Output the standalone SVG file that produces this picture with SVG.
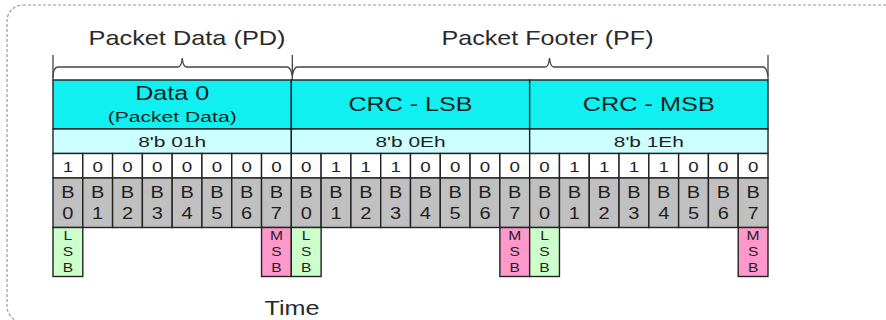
<svg xmlns="http://www.w3.org/2000/svg" width="886" height="320" viewBox="0 0 886 320">
<style>
  text { font-family: "Liberation Sans", Arial, sans-serif; fill: #1e1e1e; text-anchor: middle; }
  .sx { transform-box: fill-box; transform-origin: center; transform: scaleX(1.25); }
  .title { font-size: 21px; fill: #2a2a2a; }
  .hd { font-size: 20px; }
  .sub { font-size: 15.5px; }
  .val { font-size: 15px; }
  .bit { font-size: 15px; }
  .bn { font-size: 16px; }
  .lb { font-size: 12.5px; }
  .cell { stroke: #222; stroke-width: 1.4; }
  .cyan { fill: #10F0F0; }
  .lcyan { fill: #CCFFFF; }
  .white { fill: #FFFFFF; }
  .gray { fill: #C0C0C0; }
  .lsb { fill: #CCFFCC; }
  .msb { fill: #FF99CC; }
  .brace { fill: none; stroke: #444; stroke-width: 1.3; }
  .frame { fill: none; stroke: #9a9a9a; stroke-width: 1.2; stroke-dasharray: 3 2; }
</style>

<rect class="frame" x="7" y="5" width="960" height="317" rx="16"/>

<g id="labels">
  <text class="title" x="187" y="45" textLength="197" lengthAdjust="spacingAndGlyphs">Packet Data (PD)</text>
  <text class="title" x="547.5" y="45" textLength="212" lengthAdjust="spacingAndGlyphs">Packet Footer (PF)</text>
  <text class="title" x="292" y="315" textLength="55" lengthAdjust="spacingAndGlyphs">Time</text>
</g>

<g id="connectors">
  <path class="brace" d="M53,55 V80 M292.3,55 V80 M768,55 V80"/>
  <path class="brace" d="M53,78 Q53,67 58,67 H178 Q181.5,67 182.3,58 Q183,67 186.5,67 H287 Q290.5,67 292.3,75.5"/>
  <path class="brace" d="M292.3,75.5 Q294,67 297.5,67 H545 Q548.7,67 549.5,58 Q550.3,67 554,67 H763 Q766.5,67 768,76"/>
</g>

<g id="byte-data0">
  <rect class="cell cyan" x="53" y="80" width="238.33" height="49"/>
  <rect class="cell lcyan" x="53" y="129" width="238.33" height="24.5"/>
  <text class="hd" x="172.2" y="99.5" textLength="74" lengthAdjust="spacingAndGlyphs">Data 0</text>
  <text class="sub" x="172.2" y="121.5" textLength="129" lengthAdjust="spacingAndGlyphs">(Packet Data)</text>
  <text class="val" x="172.2" y="147.3" textLength="68" lengthAdjust="spacingAndGlyphs">8'b 01h</text>
</g>
<g id="byte-crc-lsb">
  <rect class="cell cyan" x="291.33" y="80" width="238.33" height="49"/>
  <rect class="cell lcyan" x="291.33" y="129" width="238.33" height="24.5"/>
  <text class="hd" x="410.5" y="111" textLength="124" lengthAdjust="spacingAndGlyphs">CRC - LSB</text>
  <text class="val" x="410.5" y="147.3" textLength="70" lengthAdjust="spacingAndGlyphs">8'b 0Eh</text>
</g>
<g id="byte-crc-msb">
  <rect class="cell cyan" x="529.67" y="80" width="238.33" height="49"/>
  <rect class="cell lcyan" x="529.67" y="129" width="238.33" height="24.5"/>
  <text class="hd" x="648.8" y="111" textLength="132" lengthAdjust="spacingAndGlyphs">CRC - MSB</text>
  <text class="val" x="648.8" y="147.3" textLength="70" lengthAdjust="spacingAndGlyphs">8'b 1Eh</text>
</g>

<g id="bits">
  <g id="bit0" transform="translate(53,0)"><rect class="cell white" width="29.79" y="153.5" height="24.5"/><rect class="cell gray" width="29.79" y="178" height="49.5"/><text class="bit sx" x="14.9" y="172.5">1</text><text class="bn sx" x="14.9" y="198.5">B</text><text class="bn sx" x="14.9" y="219.3">0</text></g>
  <g id="bit1" transform="translate(82.79,0)"><rect class="cell white" width="29.79" y="153.5" height="24.5"/><rect class="cell gray" width="29.79" y="178" height="49.5"/><text class="bit sx" x="14.9" y="172.5">0</text><text class="bn sx" x="14.9" y="198.5">B</text><text class="bn sx" x="14.9" y="219.3">1</text></g>
  <g id="bit2" transform="translate(112.58,0)"><rect class="cell white" width="29.79" y="153.5" height="24.5"/><rect class="cell gray" width="29.79" y="178" height="49.5"/><text class="bit sx" x="14.9" y="172.5">0</text><text class="bn sx" x="14.9" y="198.5">B</text><text class="bn sx" x="14.9" y="219.3">2</text></g>
  <g id="bit3" transform="translate(142.38,0)"><rect class="cell white" width="29.79" y="153.5" height="24.5"/><rect class="cell gray" width="29.79" y="178" height="49.5"/><text class="bit sx" x="14.9" y="172.5">0</text><text class="bn sx" x="14.9" y="198.5">B</text><text class="bn sx" x="14.9" y="219.3">3</text></g>
  <g id="bit4" transform="translate(172.17,0)"><rect class="cell white" width="29.79" y="153.5" height="24.5"/><rect class="cell gray" width="29.79" y="178" height="49.5"/><text class="bit sx" x="14.9" y="172.5">0</text><text class="bn sx" x="14.9" y="198.5">B</text><text class="bn sx" x="14.9" y="219.3">4</text></g>
  <g id="bit5" transform="translate(201.96,0)"><rect class="cell white" width="29.79" y="153.5" height="24.5"/><rect class="cell gray" width="29.79" y="178" height="49.5"/><text class="bit sx" x="14.9" y="172.5">0</text><text class="bn sx" x="14.9" y="198.5">B</text><text class="bn sx" x="14.9" y="219.3">5</text></g>
  <g id="bit6" transform="translate(231.75,0)"><rect class="cell white" width="29.79" y="153.5" height="24.5"/><rect class="cell gray" width="29.79" y="178" height="49.5"/><text class="bit sx" x="14.9" y="172.5">0</text><text class="bn sx" x="14.9" y="198.5">B</text><text class="bn sx" x="14.9" y="219.3">6</text></g>
  <g id="bit7" transform="translate(261.54,0)"><rect class="cell white" width="29.79" y="153.5" height="24.5"/><rect class="cell gray" width="29.79" y="178" height="49.5"/><text class="bit sx" x="14.9" y="172.5">0</text><text class="bn sx" x="14.9" y="198.5">B</text><text class="bn sx" x="14.9" y="219.3">7</text></g>

  <g id="bit8" transform="translate(291.33,0)"><rect class="cell white" width="29.79" y="153.5" height="24.5"/><rect class="cell gray" width="29.79" y="178" height="49.5"/><text class="bit sx" x="14.9" y="172.5">0</text><text class="bn sx" x="14.9" y="198.5">B</text><text class="bn sx" x="14.9" y="219.3">0</text></g>
  <g id="bit9" transform="translate(321.13,0)"><rect class="cell white" width="29.79" y="153.5" height="24.5"/><rect class="cell gray" width="29.79" y="178" height="49.5"/><text class="bit sx" x="14.9" y="172.5">1</text><text class="bn sx" x="14.9" y="198.5">B</text><text class="bn sx" x="14.9" y="219.3">1</text></g>
  <g id="bit10" transform="translate(350.92,0)"><rect class="cell white" width="29.79" y="153.5" height="24.5"/><rect class="cell gray" width="29.79" y="178" height="49.5"/><text class="bit sx" x="14.9" y="172.5">1</text><text class="bn sx" x="14.9" y="198.5">B</text><text class="bn sx" x="14.9" y="219.3">2</text></g>
  <g id="bit11" transform="translate(380.71,0)"><rect class="cell white" width="29.79" y="153.5" height="24.5"/><rect class="cell gray" width="29.79" y="178" height="49.5"/><text class="bit sx" x="14.9" y="172.5">1</text><text class="bn sx" x="14.9" y="198.5">B</text><text class="bn sx" x="14.9" y="219.3">3</text></g>
  <g id="bit12" transform="translate(410.5,0)"><rect class="cell white" width="29.79" y="153.5" height="24.5"/><rect class="cell gray" width="29.79" y="178" height="49.5"/><text class="bit sx" x="14.9" y="172.5">0</text><text class="bn sx" x="14.9" y="198.5">B</text><text class="bn sx" x="14.9" y="219.3">4</text></g>
  <g id="bit13" transform="translate(440.29,0)"><rect class="cell white" width="29.79" y="153.5" height="24.5"/><rect class="cell gray" width="29.79" y="178" height="49.5"/><text class="bit sx" x="14.9" y="172.5">0</text><text class="bn sx" x="14.9" y="198.5">B</text><text class="bn sx" x="14.9" y="219.3">5</text></g>
  <g id="bit14" transform="translate(470.08,0)"><rect class="cell white" width="29.79" y="153.5" height="24.5"/><rect class="cell gray" width="29.79" y="178" height="49.5"/><text class="bit sx" x="14.9" y="172.5">0</text><text class="bn sx" x="14.9" y="198.5">B</text><text class="bn sx" x="14.9" y="219.3">6</text></g>
  <g id="bit15" transform="translate(499.88,0)"><rect class="cell white" width="29.79" y="153.5" height="24.5"/><rect class="cell gray" width="29.79" y="178" height="49.5"/><text class="bit sx" x="14.9" y="172.5">0</text><text class="bn sx" x="14.9" y="198.5">B</text><text class="bn sx" x="14.9" y="219.3">7</text></g>

  <g id="bit16" transform="translate(529.67,0)"><rect class="cell white" width="29.79" y="153.5" height="24.5"/><rect class="cell gray" width="29.79" y="178" height="49.5"/><text class="bit sx" x="14.9" y="172.5">0</text><text class="bn sx" x="14.9" y="198.5">B</text><text class="bn sx" x="14.9" y="219.3">0</text></g>
  <g id="bit17" transform="translate(559.46,0)"><rect class="cell white" width="29.79" y="153.5" height="24.5"/><rect class="cell gray" width="29.79" y="178" height="49.5"/><text class="bit sx" x="14.9" y="172.5">1</text><text class="bn sx" x="14.9" y="198.5">B</text><text class="bn sx" x="14.9" y="219.3">1</text></g>
  <g id="bit18" transform="translate(589.25,0)"><rect class="cell white" width="29.79" y="153.5" height="24.5"/><rect class="cell gray" width="29.79" y="178" height="49.5"/><text class="bit sx" x="14.9" y="172.5">1</text><text class="bn sx" x="14.9" y="198.5">B</text><text class="bn sx" x="14.9" y="219.3">2</text></g>
  <g id="bit19" transform="translate(619.04,0)"><rect class="cell white" width="29.79" y="153.5" height="24.5"/><rect class="cell gray" width="29.79" y="178" height="49.5"/><text class="bit sx" x="14.9" y="172.5">1</text><text class="bn sx" x="14.9" y="198.5">B</text><text class="bn sx" x="14.9" y="219.3">3</text></g>
  <g id="bit20" transform="translate(648.83,0)"><rect class="cell white" width="29.79" y="153.5" height="24.5"/><rect class="cell gray" width="29.79" y="178" height="49.5"/><text class="bit sx" x="14.9" y="172.5">1</text><text class="bn sx" x="14.9" y="198.5">B</text><text class="bn sx" x="14.9" y="219.3">4</text></g>
  <g id="bit21" transform="translate(678.63,0)"><rect class="cell white" width="29.79" y="153.5" height="24.5"/><rect class="cell gray" width="29.79" y="178" height="49.5"/><text class="bit sx" x="14.9" y="172.5">0</text><text class="bn sx" x="14.9" y="198.5">B</text><text class="bn sx" x="14.9" y="219.3">5</text></g>
  <g id="bit22" transform="translate(708.42,0)"><rect class="cell white" width="29.79" y="153.5" height="24.5"/><rect class="cell gray" width="29.79" y="178" height="49.5"/><text class="bit sx" x="14.9" y="172.5">0</text><text class="bn sx" x="14.9" y="198.5">B</text><text class="bn sx" x="14.9" y="219.3">6</text></g>
  <g id="bit23" transform="translate(738.21,0)"><rect class="cell white" width="29.79" y="153.5" height="24.5"/><rect class="cell gray" width="29.79" y="178" height="49.5"/><text class="bit sx" x="14.9" y="172.5">0</text><text class="bn sx" x="14.9" y="198.5">B</text><text class="bn sx" x="14.9" y="219.3">7</text></g>
</g>

<g id="markers">
  <g id="lsb0" transform="translate(53,0)"><rect class="cell lsb" width="29.79" y="227.5" height="49"/><text class="lb sx" x="14.9" y="240">L</text><text class="lb sx" x="14.9" y="256.5">S</text><text class="lb sx" x="14.9" y="272.5">B</text></g>
  <g id="msb0" transform="translate(261.54,0)"><rect class="cell msb" width="29.79" y="227.5" height="49"/><text class="lb sx" x="14.9" y="240">M</text><text class="lb sx" x="14.9" y="256.5">S</text><text class="lb sx" x="14.9" y="272.5">B</text></g>
  <g id="lsb1" transform="translate(291.33,0)"><rect class="cell lsb" width="29.79" y="227.5" height="49"/><text class="lb sx" x="14.9" y="240">L</text><text class="lb sx" x="14.9" y="256.5">S</text><text class="lb sx" x="14.9" y="272.5">B</text></g>
  <g id="msb1" transform="translate(499.88,0)"><rect class="cell msb" width="29.79" y="227.5" height="49"/><text class="lb sx" x="14.9" y="240">M</text><text class="lb sx" x="14.9" y="256.5">S</text><text class="lb sx" x="14.9" y="272.5">B</text></g>
  <g id="lsb2" transform="translate(529.67,0)"><rect class="cell lsb" width="29.79" y="227.5" height="49"/><text class="lb sx" x="14.9" y="240">L</text><text class="lb sx" x="14.9" y="256.5">S</text><text class="lb sx" x="14.9" y="272.5">B</text></g>
  <g id="msb2" transform="translate(738.21,0)"><rect class="cell msb" width="29.79" y="227.5" height="49"/><text class="lb sx" x="14.9" y="240">M</text><text class="lb sx" x="14.9" y="256.5">S</text><text class="lb sx" x="14.9" y="272.5">B</text></g>
</g>
</svg>
